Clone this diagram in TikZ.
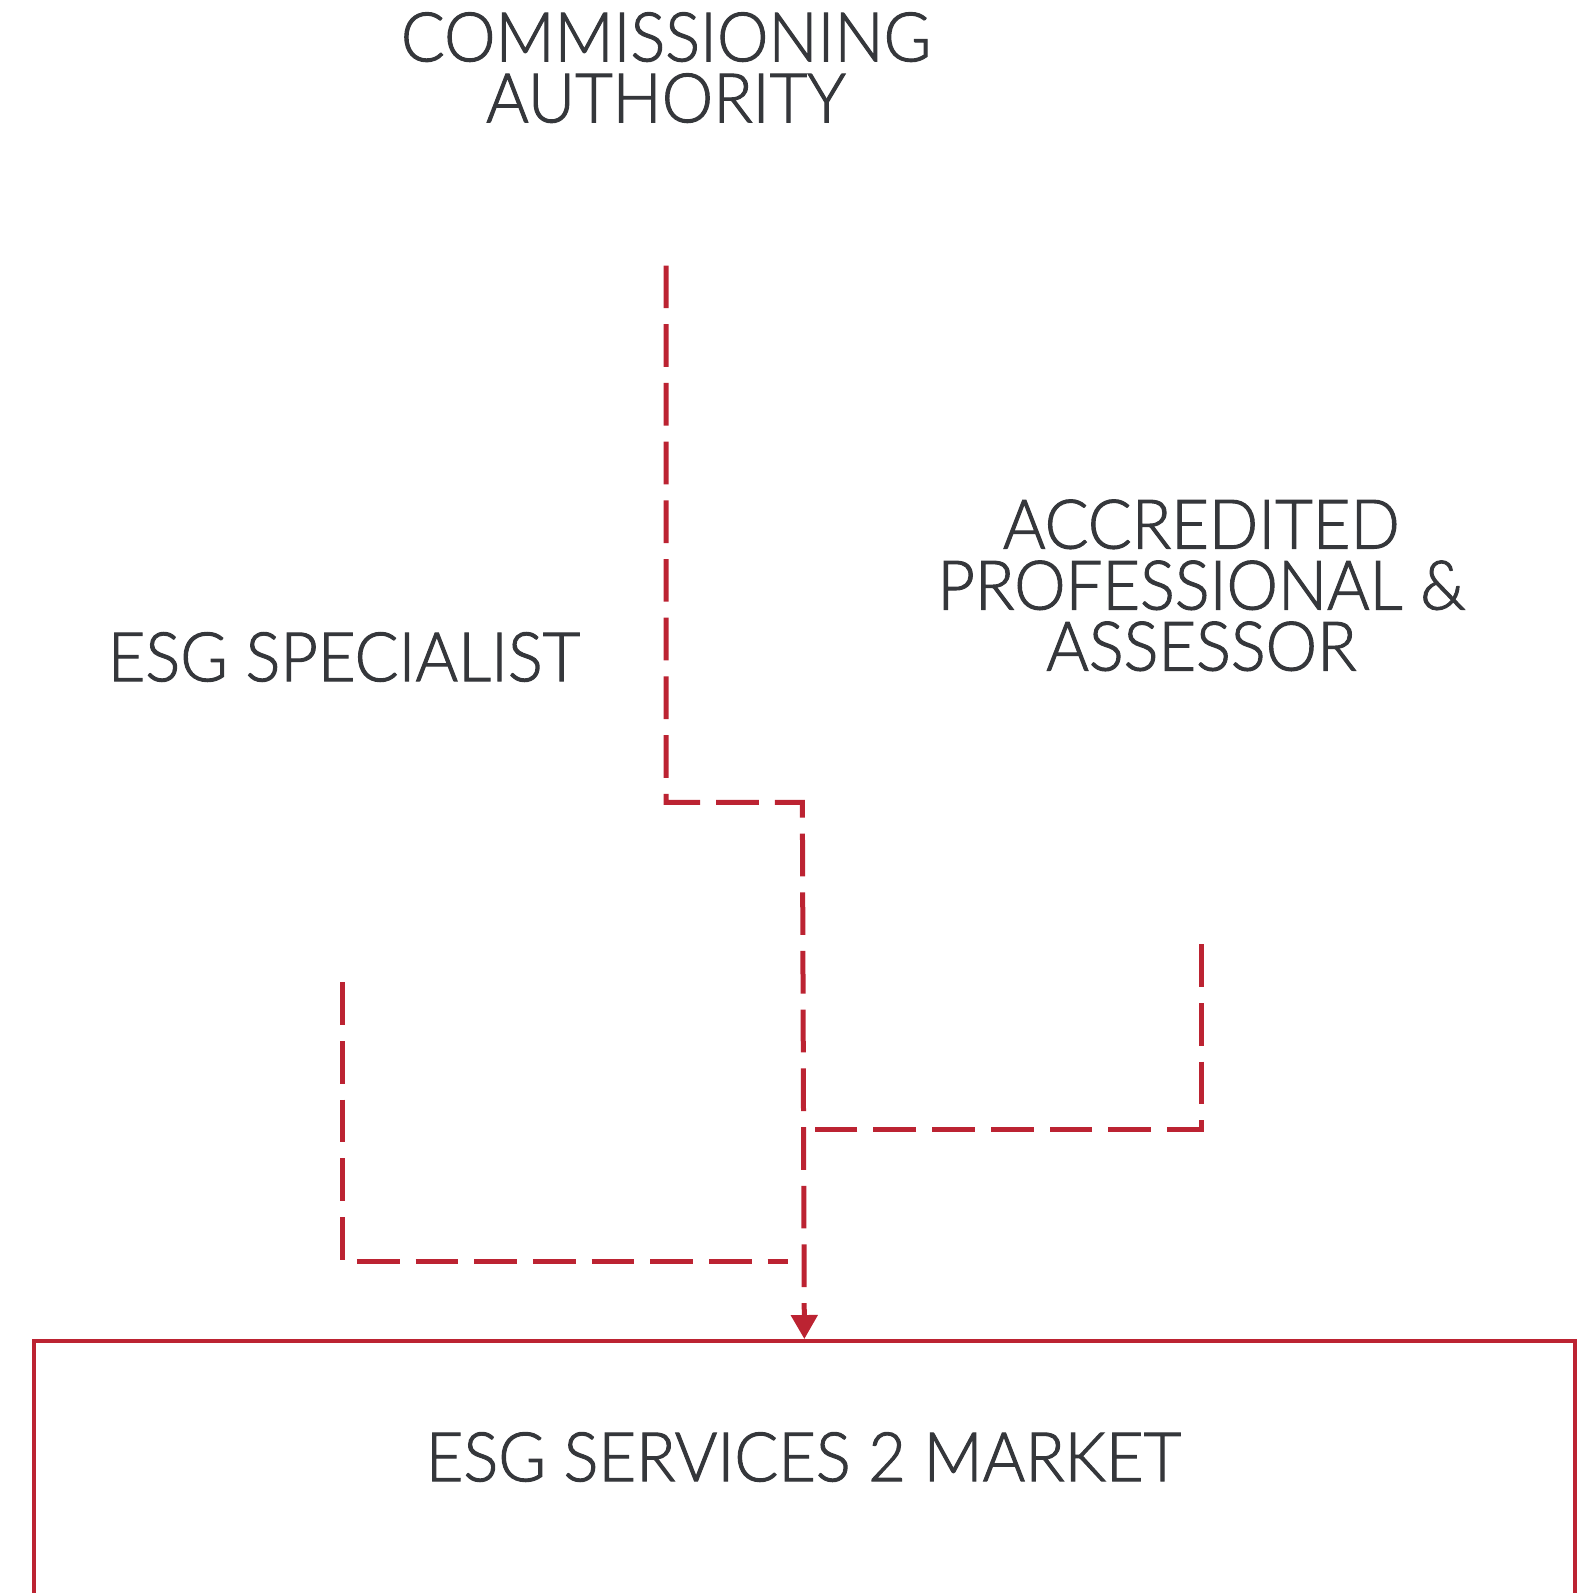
\documentclass[tikz,border=0pt]{standalone}
\usepackage{fontspec}
\setmainfont{Lato}[UprightFont={* Light}, FakeStretch=0.95, FakeBold=1.5]
\usetikzlibrary{arrows.meta}
\definecolor{esgred}{RGB}{188,35,50}
\definecolor{esgtext}{RGB}{53,55,59}
\begin{document}
\begin{tikzpicture}[x=1pt,y=-1pt,
  lbl/.style={inner sep=0pt, align=center, text=esgtext, font=\fontsize{68.4}{61}\selectfont},
  flow/.style={draw=esgred, line width=5pt, dash pattern=on 42.7pt off 16pt},
  tip/.style={-{Triangle[length=24pt,width=26pt]}},
  boxstyle/.style={draw=esgred, line width=4pt, inner sep=0pt}]
\useasboundingbox (0,0) rectangle (1590,1593);
\clip (0,0) rectangle (1590,1593);
% labels
\node[lbl] (comm) at (666,67.6) {COMMISSIONING\\AUTHORITY};
\node[lbl] (spec) at (344,657) {ESG SPECIALIST};
\node[lbl] (acc) at (1201.4,585.3) {ACCREDITED\\PROFESSIONAL \&\\ASSESSOR};
% target box
\node[boxstyle, anchor=north west, minimum width=1540.7pt, minimum height=400pt] (market) at (32,1339) {};
\node[lbl] (marketlabel) at (803.5,1457) {ESG SERVICES 2 MARKET};
% connector ends
\coordinate (commout) at (666,265.5);
\coordinate (bend) at (802.35,802.3);
\coordinate (specout) at (342.7,982.3);
\coordinate (specend) at (788.3,1261.7);
\coordinate (accout) at (1201,944.3);
\coordinate (accend) at (802.35,1129);
% connectors
\draw[flow, tip] (commout) |- (bend) -- (market.north);
\draw[flow] (specout) |- (specend);
\draw[flow] (accout) |- (accend);
\end{tikzpicture}
\end{document}
